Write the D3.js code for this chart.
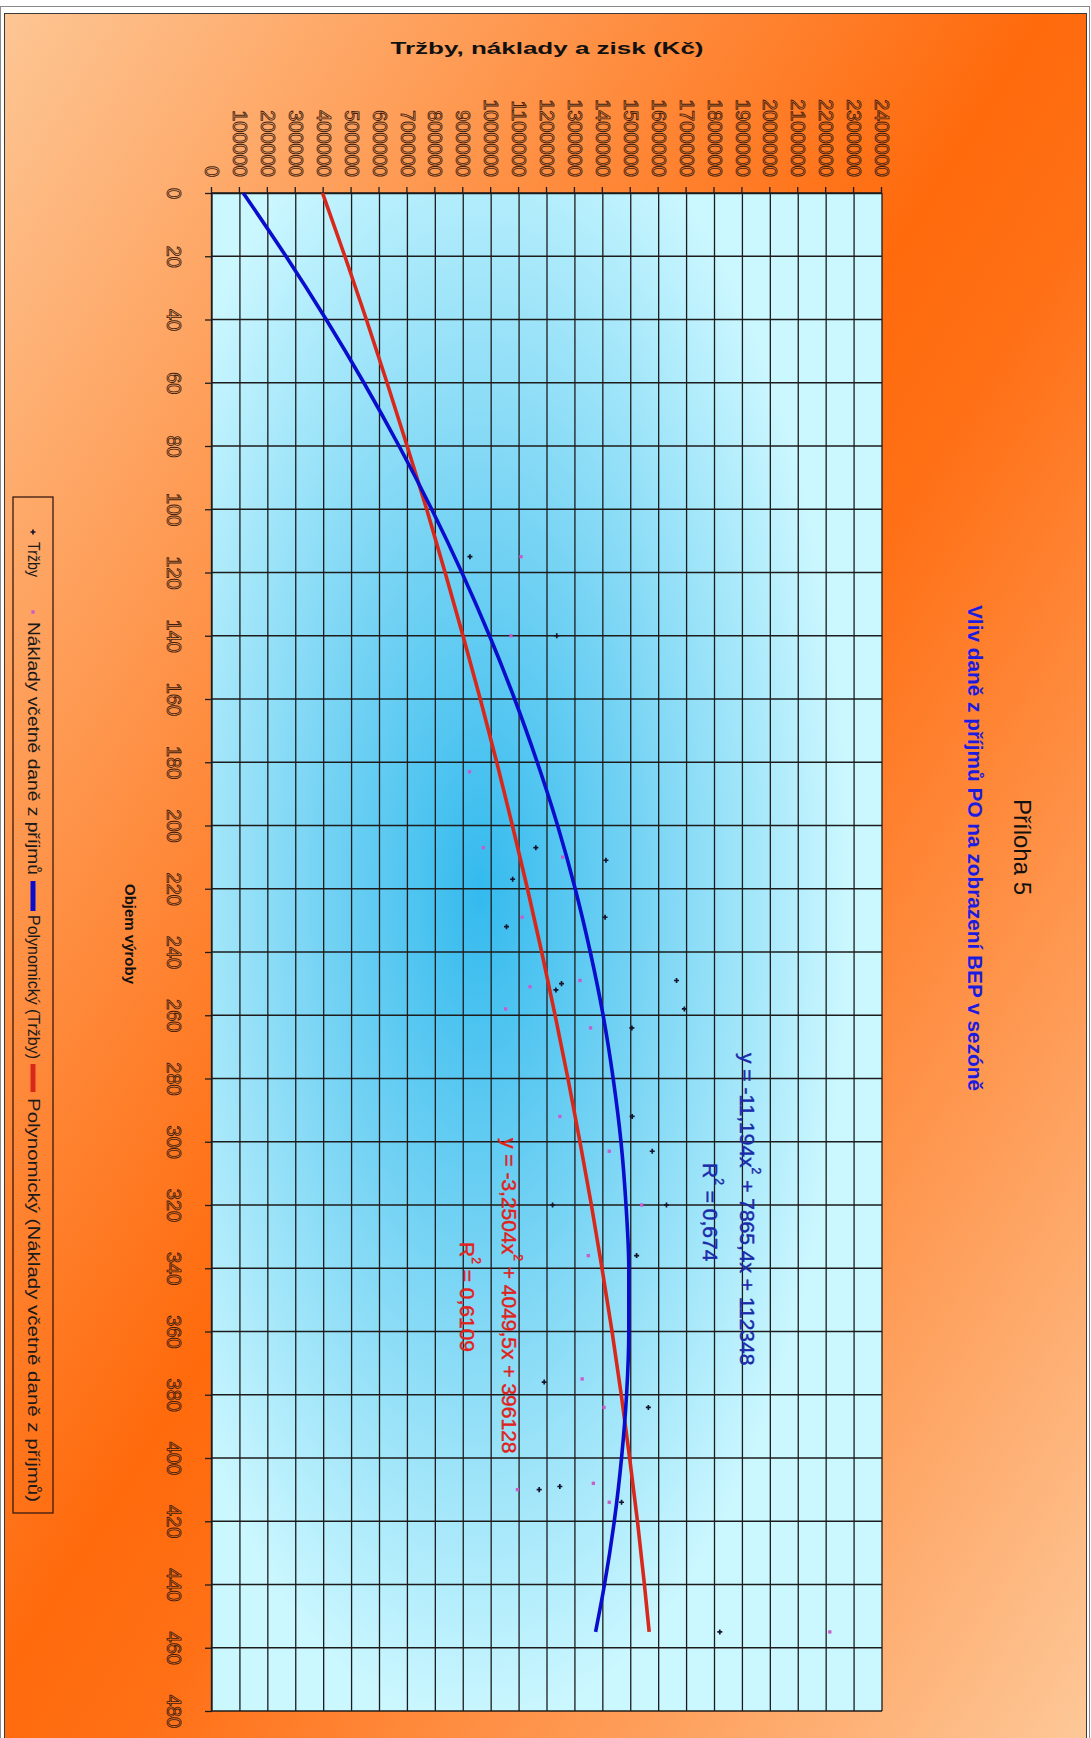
<!DOCTYPE html>
<html>
<head>
<meta charset="utf-8">
<script src="https://cdn.jsdelivr.net/npm/d3@7"></script>
<style>
  html, body { margin: 0; padding: 0; background: #ffffff; }
  svg { display: block; }
  text { font-family: "Liberation Sans", Arial, sans-serif; }
</style>
</head>
<body>
<svg id="chart" width="1091" height="1738"></svg>
<script>
// ---- data ----------------------------------------------------------------
const volumeTicks = [0, 20, 40, 60, 80, 100, 120, 140, 160, 180, 200, 220, 240,
  260, 280, 300, 320, 340, 360, 380, 400, 420, 440, 460, 480];
const valueTicks = [0, 100000, 200000, 300000, 400000, 500000, 600000, 700000,
  800000, 900000, 1000000, 1100000, 1200000, 1300000, 1400000, 1500000, 1600000,
  1700000, 1800000, 1900000, 2000000, 2100000, 2200000, 2300000, 2400000];

// Tržby (revenue) observations
const trzbyVolume = [115, 140, 207, 211, 217, 229, 232, 249, 250, 252, 258, 264,
  292, 303, 320, 320, 336, 376, 384, 409, 410, 414, 455];
const trzbyValue = [924000, 1235000, 1160000, 1411000, 1077000, 1408000, 1055000,
  1664000, 1252000, 1232000, 1692000, 1504000, 1505000, 1577000, 1220000, 1628000,
  1521000, 1190000, 1563000, 1246000, 1172000, 1467000, 1819000];

// Náklady včetně daně z příjmů (costs incl. income tax) observations
const nakladyVolume = [115, 140, 183, 207, 210, 229, 249, 251, 258, 264, 292, 303,
  320, 336, 375, 384, 408, 410, 414, 455];
const nakladyValue = [1107000, 1071000, 922000, 972000, 1256000, 1111000, 1318000,
  1139000, 1052000, 1356000, 1246000, 1423000, 1539000, 1348000, 1326000, 1404000,
  1366000, 1094000, 1423000, 2213000];

// polynomial trend curves, sampled along the volume axis
const trendVolume = [0, 20, 40, 60, 80, 100, 120, 140, 160, 180, 200, 220, 240,
  260, 280, 300, 320, 340, 360, 380, 400, 420, 440, 455];
const trendTrzby = [112000, 265000, 409000, 544000, 670000, 787000, 895000, 994000,
  1084000, 1165000, 1238000, 1301000, 1355000, 1401000, 1437000, 1465000, 1483000,
  1493000, 1493000, 1485000, 1467000, 1441000, 1406000, 1374000];
const trendNaklady = [396000, 476000, 553000, 627000, 699000, 769000, 835000, 899000,
  961000, 1020000, 1076000, 1130000, 1181000, 1229000, 1275000, 1318000, 1359000,
  1397000, 1433000, 1466000, 1496000, 1524000, 1549000, 1566000];

const eqTrzby = ["y = -11,194x", "2", " + 7865,4x + 112348"];
const r2Trzby = ["R", "2", " = 0,674"];
const eqNaklady = ["y = -3,2504x", "2", " + 4049,5x + 396128"];
const r2Naklady = ["R", "2", " = 0,6109"];

const legendLabels = ["Tržby", "Náklady včetně daně z příjmů",
  "Polynomický (Tržby)", "Polynomický (Náklady včetně daně z příjmů)"];

// ---- page ----------------------------------------------------------------
const svg = d3.select("#chart");
const defs = svg.append("defs");

const bgGrad = defs.append("linearGradient").attr("id", "bgGrad")
  .attr("x1", 0).attr("y1", 0).attr("x2", 1).attr("y2", 1);
bgGrad.append("stop").attr("offset", 0).attr("stop-color", "#fdc694");
bgGrad.append("stop").attr("offset", 0.48).attr("stop-color", "#ff6a0c");
bgGrad.append("stop").attr("offset", 0.56).attr("stop-color", "#ff7016");
bgGrad.append("stop").attr("offset", 1).attr("stop-color", "#fdc898");

const plotGrad = defs.append("radialGradient").attr("id", "plotGrad")
  .attr("cx", 0.46).attr("cy", 0.60).attr("r", 0.55);
plotGrad.append("stop").attr("offset", 0).attr("stop-color", "#34baee");
plotGrad.append("stop").attr("offset", 0.45).attr("stop-color", "#78d4f4");
plotGrad.append("stop").attr("offset", 1).attr("stop-color", "#cbf7ff");

// outer frame and chart area
svg.append("rect").attr("x", 0.5).attr("y", 6.5).attr("width", 1089).attr("height", 1740)
  .attr("fill", "#ffffff").attr("stroke", "#8a8a8a");
svg.append("rect").attr("x", 4.5).attr("y", 13.5).attr("width", 1082).attr("height", 1730)
  .attr("fill", "url(#bgGrad)").attr("stroke", "#3a3a3a");

// the chart is laid out landscape and turned a quarter clockwise
const g = svg.append("g").attr("transform", "translate(1091,0) rotate(90)");

const x = d3.scaleLinear().domain([0, 480]).range([193, 1711]);
const y = d3.scaleLinear().domain([0, 2400000]).range([879, 209]);

g.append("rect")
  .attr("x", x(0)).attr("y", y(2400000))
  .attr("width", x(480) - x(0)).attr("height", y(0) - y(2400000))
  .attr("fill", "url(#plotGrad)");

const gridColor = "#1c1c1c";
g.append("g").selectAll("line").data(volumeTicks).join("line")
  .attr("x1", d => x(d)).attr("x2", d => x(d))
  .attr("y1", y(0)).attr("y2", y(2400000))
  .attr("stroke", gridColor).attr("stroke-width", 1.3);
g.append("g").selectAll("line").data(valueTicks).join("line")
  .attr("x1", x(0)).attr("x2", x(480))
  .attr("y1", d => y(d)).attr("y2", d => y(d))
  .attr("stroke", gridColor).attr("stroke-width", 1.3);

function styleTicks(sel) {
  sel.select(".domain").attr("stroke", gridColor).attr("stroke-width", 1.3);
  sel.selectAll(".tick line").attr("stroke", gridColor).attr("stroke-width", 1.3);
  sel.selectAll(".tick text")
    .attr("font-family", "'Liberation Sans', Arial, sans-serif")
    .attr("font-size", 20)
    .attr("fill", "none")
    .attr("stroke", "#3e1c0e")
    .attr("stroke-width", 0.85);
}

const xAxis = g.append("g").attr("transform", `translate(0,${y(0)})`)
  .call(d3.axisBottom(x).tickValues(volumeTicks).tickSize(7).tickSizeOuter(0)
    .tickFormat(d3.format("d")));
styleTicks(xAxis);
xAxis.selectAll(".tick text").attr("y", 38).attr("dy", "0.35em");

const yAxis = g.append("g").attr("transform", `translate(${x(0)},0)`)
  .call(d3.axisLeft(y).tickValues(valueTicks).tickSize(6).tickSizeOuter(0)
    .tickPadding(10).tickFormat(d3.format("d")));
styleTicks(yAxis);

// observations
g.append("g").selectAll("path").data(nakladyValue).join("path")
  .attr("transform", (d, i) => `translate(${x(nakladyVolume[i])},${y(d)})`)
  .attr("d", d3.symbol().type(d3.symbolSquare).size(11))
  .attr("fill", "#c85ccc");
g.append("g").selectAll("path").data(trzbyValue).join("path")
  .attr("transform", (d, i) => `translate(${x(trzbyVolume[i])},${y(d)})`)
  .attr("d", d3.symbol().type(d3.symbolCross).size(14))
  .attr("fill", "#14142c");

// polynomial trend curves
const trendLine = d3.line()
  .x((d, i) => x(trendVolume[i]))
  .y(d => y(d))
  .curve(d3.curveMonotoneX);
g.append("path").datum(trendNaklady).attr("d", trendLine)
  .attr("fill", "none").attr("stroke", "#d8281c").attr("stroke-width", 3.6);
g.append("path").datum(trendTrzby).attr("d", trendLine)
  .attr("fill", "none").attr("stroke", "#0a0ecc").attr("stroke-width", 3.6);

// trend equations
function supLabel(px, py, parts, color) {
  const t = g.append("text").attr("x", px).attr("y", py)
    .attr("dominant-baseline", "central")
    .attr("font-size", 21).attr("fill", color)
    .attr("stroke", color).attr("stroke-width", 0.45);
  t.append("tspan").text(parts[0]);
  t.append("tspan").attr("dy", -8).attr("font-size", 12).text(parts[1]);
  t.append("tspan").attr("dy", 8).text(parts[2]);
}
supLabel(1053, 343, eqTrzby, "#1b2aa8");
supLabel(1163, 380, r2Trzby, "#1b2aa8");
supLabel(1138, 581, eqNaklady, "#e0221c");
supLabel(1242, 623, r2Naklady, "#e0221c");

// titles
g.append("text").attr("x", 847).attr("y", 69)
  .attr("text-anchor", "middle").attr("dominant-baseline", "central")
  .attr("font-size", 24).attr("fill", "#111111").text("Příloha 5");
g.append("text").attr("x", 848).attr("y", 116)
  .attr("text-anchor", "middle").attr("dominant-baseline", "central")
  .attr("font-size", 20).attr("font-weight", "bold").attr("fill", "#1c1ce0")
  .attr("textLength", 486).attr("lengthAdjust", "spacingAndGlyphs")
  .text("Vliv daně z příjmů PO na zobrazení BEP v sezóně");

g.append("text").attr("x", 934).attr("y", 961)
  .attr("text-anchor", "middle").attr("dominant-baseline", "central")
  .attr("font-size", 15).attr("font-weight", "bold").attr("fill", "#111111")
  .text("Objem výroby");

g.append("text")
  .attr("transform", `translate(48,${(y(0) + y(2400000)) / 2}) rotate(-90)`)
  .attr("text-anchor", "middle").attr("dominant-baseline", "central")
  .attr("font-size", 16).attr("font-weight", "bold").attr("fill", "#111111")
  .attr("textLength", 313).attr("lengthAdjust", "spacingAndGlyphs")
  .text("Tržby, náklady a zisk  (Kč)");

// legend
const lg = g.append("g");
lg.append("rect").attr("x", 497).attr("y", 1038).attr("width", 1016).attr("height", 40)
  .attr("fill", "none").attr("stroke", "#3a1a10").attr("stroke-width", 1.3);
const ly = 1058;
lg.append("path").attr("transform", `translate(532,${ly})`)
  .attr("d", d3.symbol().type(d3.symbolCross).size(14)).attr("fill", "#14142c");
lg.append("path").attr("transform", `translate(612,${ly})`)
  .attr("d", d3.symbol().type(d3.symbolSquare).size(11)).attr("fill", "#c85ccc");
lg.append("line").attr("x1", 881).attr("x2", 911).attr("y1", ly).attr("y2", ly)
  .attr("stroke", "#0a0ecc").attr("stroke-width", 5);
lg.append("line").attr("x1", 1064).attr("x2", 1092).attr("y1", ly).attr("y2", ly)
  .attr("stroke", "#d8281c").attr("stroke-width", 5);
const legendPos = [[542, 35], [622, 253], [915, 144], [1098, 404]];
lg.selectAll("text.leg").data(legendLabels).join("text").attr("class", "leg")
  .attr("x", (d, i) => legendPos[i][0]).attr("y", ly)
  .attr("dominant-baseline", "central")
  .attr("font-size", 16).attr("fill", "#1a1a1a")
  .attr("textLength", (d, i) => legendPos[i][1])
  .attr("lengthAdjust", "spacingAndGlyphs")
  .text(d => d);
</script>
</body>
</html>
